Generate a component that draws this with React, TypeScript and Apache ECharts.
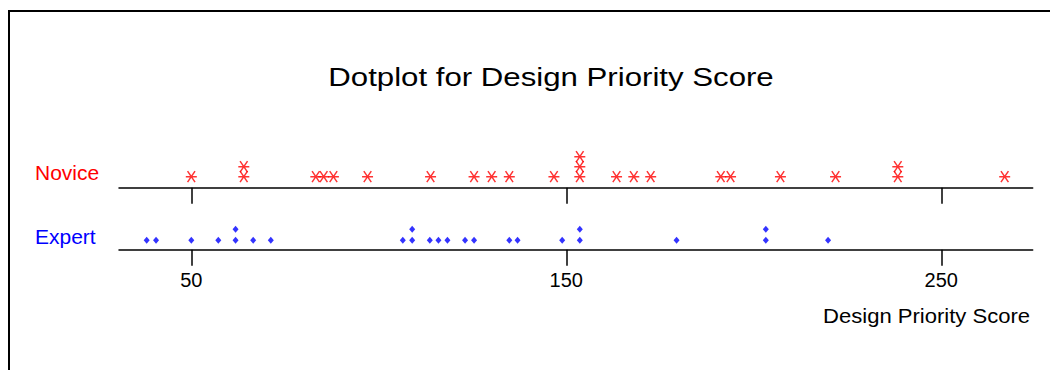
import React, { useEffect, useRef } from "react";
import * as echarts from "echarts";

const TITLE = "Dotplot for Design Priority Score";
const AXIS_NAME = "Design Priority Score";
const GROUPS = ["Novice", "Expert"];
const TICK_VALUES = [50, 150, 250];
const X_MIN = 30.72;
const X_MAX = 274.37;

const noviceScores = [
  50, 64, 64, 83.2, 85.3, 87.9, 97, 113.8, 125.4, 130.1, 134.8, 146.7,
  153.6, 153.6, 153.6, 163.4, 168, 172.5, 191.2, 193.8, 207.1, 221.8,
  238.4, 238.4, 266.9,
];
const expertScores = [
  38.1, 40.6, 50, 57.2, 61.8, 61.8, 66.5, 71.2, 106.4, 108.9, 108.9, 113.6,
  115.9, 118.3, 123, 125.4, 134.8, 137, 148.9, 153.6, 153.6, 179.4, 203.2,
  203.2, 219.8,
];

const FONT = "'Liberation Sans', Arial, sans-serif";
const STAR = "path://M0,5L10,5M1.6,0L8.4,10M8.4,0L1.6,10";

function stack(values: number[]): [number, number][] {
  const counts: Record<string, number> = {};
  return values.map((v) => {
    const k = String(v);
    counts[k] = (counts[k] || 0) + 1;
    return [v, counts[k]];
  });
}

function xAxisFor(gridIndex: number, showLabels: boolean) {
  return {
    gridIndex,
    type: "value",
    min: X_MIN,
    max: X_MAX,
    axisLine: { show: true, onZero: false, lineStyle: { color: "#000", width: 1.5 } },
    axisTick: {
      show: true,
      inside: false,
      length: 16,
      customValues: TICK_VALUES,
      lineStyle: { color: "#000", width: 1.5 },
    },
    axisLabel: {
      show: showLabels,
      customValues: TICK_VALUES,
      margin: 30,
      fontSize: 20,
      color: "#000",
      fontFamily: FONT,
      verticalAlign: "middle",
    },
    splitLine: { show: false },
  };
}

export default function App() {
  const ref = useRef<HTMLDivElement>(null);
  useEffect(() => {
    if (!ref.current) return;
    const chart = echarts.init(ref.current, undefined, { renderer: "svg" });
    chart.setOption({
      animation: false,
      backgroundColor: "#fff",
      grid: [
        { left: 119, right: 17.3, top: 137.7, height: 50 },
        { left: 119, right: 17.3, top: 199.7, height: 50 },
      ],
      xAxis: [xAxisFor(0, false), xAxisFor(1, true)],
      yAxis: [
        { gridIndex: 0, type: "value", min: -0.1, max: 4.9, show: false },
        { gridIndex: 1, type: "value", min: 0.1455, max: 4.6909, show: false },
      ],
      series: [
        {
          name: GROUPS[0],
          type: "scatter",
          xAxisIndex: 0,
          yAxisIndex: 0,
          symbol: STAR,
          symbolSize: [11, 11],
          itemStyle: { color: "#ff0000", borderColor: "#ff0000", borderWidth: 1.5 },
          data: stack(noviceScores),
        },
        {
          name: GROUPS[1],
          type: "scatter",
          xAxisIndex: 1,
          yAxisIndex: 1,
          symbol: "diamond",
          symbolSize: [6, 7],
          itemStyle: { color: "#0000ff" },
          data: stack(expertScores),
        },
      ],
      graphic: [
        {
          type: "rect",
          silent: true,
          shape: { x: 9, y: 11, width: 1200, height: 600 },
          style: { fill: "none", stroke: "#000", lineWidth: 2 },
        },
        {
          type: "text",
          x: 551,
          y: 77.3,
          scaleX: 1.2,
          style: {
            text: TITLE,
            fontSize: 26,
            fontFamily: FONT,
            fill: "#000",
            align: "center",
            verticalAlign: "middle",
          },
        },
        {
          type: "text",
          x: 35,
          y: 172.2,
          style: {
            text: GROUPS[0],
            fontSize: 21,
            fontFamily: FONT,
            fill: "#ff0000",
            align: "left",
            verticalAlign: "middle",
          },
        },
        {
          type: "text",
          x: 35,
          y: 236.2,
          style: {
            text: GROUPS[1],
            fontSize: 21,
            fontFamily: FONT,
            fill: "#0000ff",
            align: "left",
            verticalAlign: "middle",
          },
        },
        {
          type: "text",
          x: 1030,
          y: 315.8,
          scaleX: 1.05,
          style: {
            text: AXIS_NAME,
            fontSize: 21,
            fontFamily: FONT,
            fill: "#000",
            align: "right",
            verticalAlign: "middle",
          },
        },
      ],
    });
    return () => chart.dispose();
  }, []);
  return (
    <div
      ref={ref}
      style={{ position: "absolute", left: 0, top: 0, width: 1050, height: 370 }}
    />
  );
}
